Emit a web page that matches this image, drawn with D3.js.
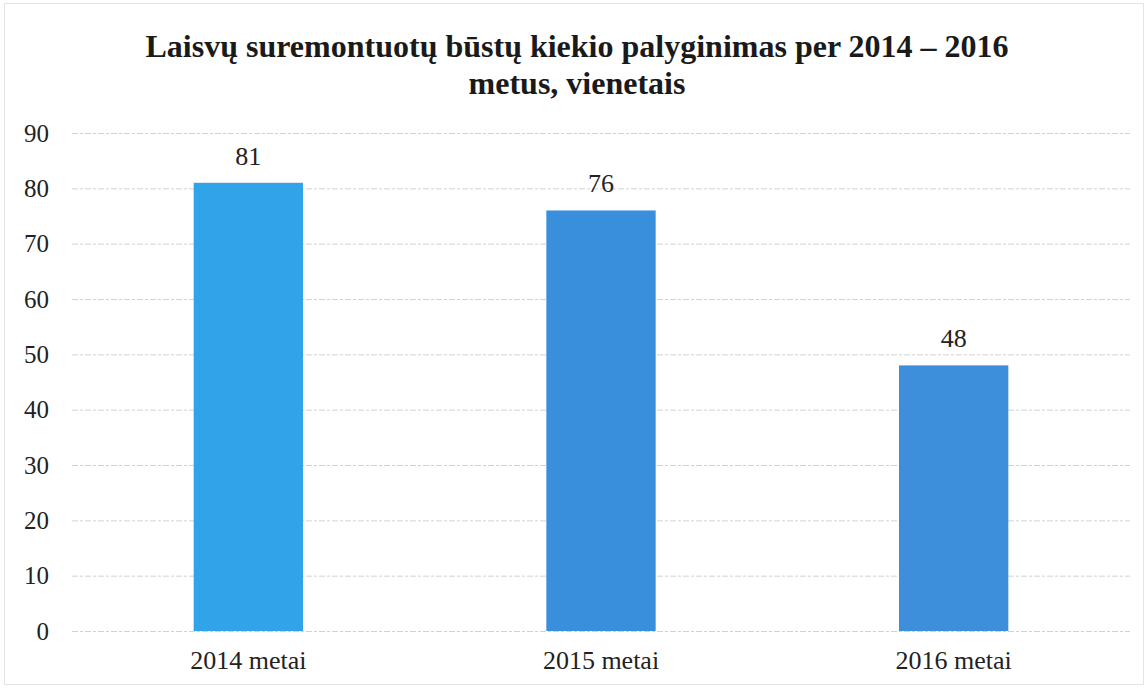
<!DOCTYPE html>
<html>
<head>
<meta charset="utf-8">
<script src="https://cdn.jsdelivr.net/npm/d3@7"></script>
<style>
  html, body { margin: 0; padding: 0; background: #fff; }
  svg { display: block; }
</style>
</head>
<body>
<svg id="chart" width="1148" height="688"></svg>
<script>
// Chart data
const categories = ["2014 metai", "2015 metai", "2016 metai"];
const values = [81, 76, 48];
const barColors = ["#31a3e9", "#3a8fdd", "#3d8fdc"];
const yTicks = [0, 10, 20, 30, 40, 50, 60, 70, 80, 90];
const titleLines = ["Laisvų suremontuotų būstų kiekio palyginimas per 2014 – 2016", "metus, vienetais"];

const W = 1148, H = 688;
const plot = { left: 72, right: 1130, top: 133, bottom: 631 };
const font = "'Liberation Serif', 'Times New Roman', serif";

const svg = d3.select("#chart");

// Outer chart frame
svg.append("rect")
  .attr("x", 4.5).attr("y", 3.5)
  .attr("width", W - 9).attr("height", H - 7)
  .attr("fill", "#fff")
  .attr("stroke", "#e4e4e4").attr("stroke-width", 1);

const x = d3.scaleBand()
  .domain(categories)
  .range([plot.left, plot.right])
  .paddingInner(0.69)
  .paddingOuter(0.345);

const y = d3.scaleLinear()
  .domain([0, 90])
  .range([plot.bottom, plot.top]);

// Horizontal gridlines with value labels on the left
const yAxis = d3.axisLeft(y)
  .tickValues(yTicks)
  .tickSize(-(plot.right - plot.left))
  .tickPadding(23);

const gy = svg.append("g")
  .attr("transform", `translate(${plot.left},0)`)
  .call(yAxis);
gy.attr("font-family", font).attr("font-size", 25);
gy.select(".domain").remove();
gy.selectAll(".tick line")
  .attr("stroke", "#d2d2d2")
  .attr("stroke-width", 1)
  .attr("stroke-dasharray", "6,2,3,2");
gy.selectAll(".tick text")
  .attr("fill", "#222");

// Bars
svg.append("g").selectAll("rect")
  .data(values)
  .join("rect")
  .attr("x", (d, i) => x(categories[i]))
  .attr("y", d => y(d))
  .attr("width", x.bandwidth())
  .attr("height", d => y(0) - y(d))
  .attr("fill", (d, i) => barColors[i]);

// Value labels above bars
svg.append("g").selectAll("text")
  .data(values)
  .join("text")
  .attr("x", (d, i) => x(categories[i]) + x.bandwidth() / 2)
  .attr("y", d => y(d) - 18)
  .attr("text-anchor", "middle")
  .attr("font-family", font)
  .attr("font-size", 26)
  .attr("fill", "#222")
  .text(d => d);

// Category axis
const xAxis = d3.axisBottom(x).tickSize(0).tickPadding(20);
const gx = svg.append("g")
  .attr("transform", `translate(0,${plot.bottom})`)
  .call(xAxis);
gx.attr("font-family", font).attr("font-size", 26);
gx.select(".domain").remove();
gx.selectAll(".tick text")
  .attr("fill", "#222");

// Title
const title = svg.append("text")
  .attr("x", 577)
  .attr("text-anchor", "middle")
  .attr("font-family", font)
  .attr("font-weight", "bold")
  .attr("font-size", 32)
  .attr("fill", "#1a1a1a");
title.selectAll("tspan")
  .data(titleLines)
  .join("tspan")
  .attr("x", 577)
  .attr("y", (d, i) => 57 + i * 37)
  .text(d => d);
</script>
</body>
</html>
